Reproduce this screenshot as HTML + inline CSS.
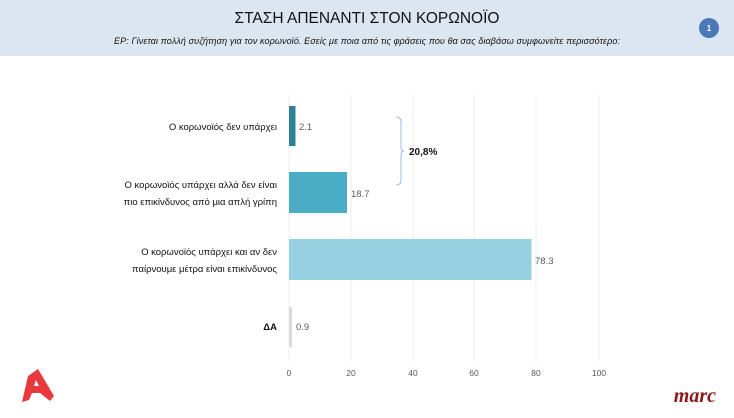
<!DOCTYPE html>
<html><head><meta charset="utf-8"><style>
body{margin:0;width:734px;height:413px;background:#fff;overflow:hidden;font-family:"Liberation Sans",sans-serif}
</style></head><body>
<svg width="734" height="413" xmlns="http://www.w3.org/2000/svg" font-family="Liberation Sans, sans-serif">
<rect x="0" y="0" width="734" height="56" fill="#dce6f1"/>
<text x="367" y="23" text-anchor="middle" font-size="15.5" fill="#111">ΣΤΑΣΗ ΑΠΕΝΑΝΤΙ ΣΤΟΝ ΚΟΡΩΝΟΪΟ</text>
<text x="367" y="44" text-anchor="middle" font-size="9" font-style="italic" fill="#111" textLength="506">ΕΡ: Γίνεται πολλή συζήτηση για τον κορωνοϊό. Εσείς με ποια από τις φράσεις που θα σας διαβάσω συμφωνείτε περισσότερο:</text>
<circle cx="709" cy="28" r="10" fill="#4a78b8"/>
<text x="709" y="31" text-anchor="middle" font-size="8" font-weight="bold" fill="#fff">1</text>
<g stroke="#ececec" stroke-width="1">
<line x1="351" y1="95" x2="351" y2="362"/><line x1="413" y1="95" x2="413" y2="362"/>
<line x1="474" y1="95" x2="474" y2="362"/><line x1="536" y1="95" x2="536" y2="362"/>
<line x1="599" y1="95" x2="599" y2="362"/><line x1="289" y1="95" x2="289" y2="362"/>
</g>
<rect x="289" y="106" width="6.5" height="40" fill="#2e7f98"/>
<rect x="289" y="172" width="58" height="41" fill="#4bacc6"/>
<rect x="289" y="239" width="242.5" height="41" fill="#96cfe0"/>
<rect x="289" y="307" width="3" height="40" fill="#d9d9d9"/>
<g font-size="9.5" fill="#595959">
<text x="299" y="130">2.1</text><text x="351" y="197">18.7</text>
<text x="535" y="264">78.3</text><text x="296" y="330">0.9</text>
</g>
<g font-size="9.5" fill="#111" text-anchor="end">
<text x="277" y="130">Ο κορωνοϊός δεν υπάρχει</text>
<text x="277" y="188">Ο κορωνοϊός υπάρχει αλλά δεν είναι</text>
<text x="277" y="205">πιο επικίνδυνος από μια απλή γρίπη</text>
<text x="277" y="255">Ο κορωνοϊός υπάρχει και αν δεν</text>
<text x="277" y="272">παίρνουμε μέτρα είναι επικίνδυνος</text>
<text x="277" y="330" font-weight="bold">ΔΑ</text>
</g>
<path d="M396 117 Q401 117 401 122 L401 147 Q401 151 404 151 Q401 151 401 155 L401 180 Q401 185 396 185" fill="none" stroke="#9dbbe0" stroke-width="1"/>
<text x="409" y="155" font-size="10" font-weight="bold" fill="#111">20,8%</text>
<g font-size="8.5" fill="#595959" text-anchor="middle">
<text x="289" y="376">0</text><text x="351" y="376">20</text><text x="413" y="376">40</text>
<text x="474" y="376">60</text><text x="536" y="376">80</text><text x="599" y="376">100</text>
</g>
<path d="M28 376 L38 369 L54 396 L50 401 L40 393 L32 393 L29 400 L22 402 Z M34 386 L39 386 L36 380 Z" fill="#e8393f" fill-rule="evenodd"/>
<text x="716" y="402" text-anchor="end" font-family="Liberation Serif, serif" font-style="italic" font-weight="bold" font-size="20" fill="#8b1a1a">marc</text>
</svg>
</body></html>
